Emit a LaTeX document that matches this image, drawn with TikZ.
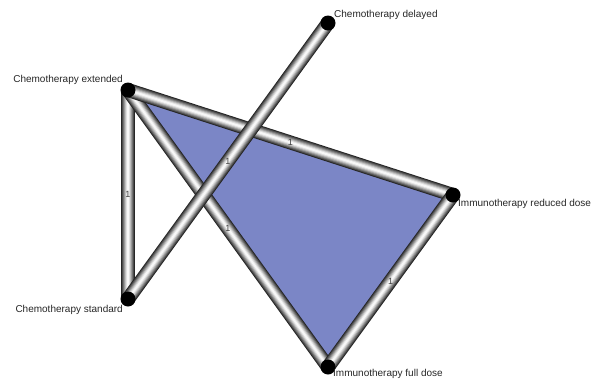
\documentclass[tikz,border=0pt]{standalone}
\usepackage{fontspec}
\setmainfont{Liberation Sans}
\begin{document}
\begin{tikzpicture}[x=1pt,y=-1pt,
  dot/.style={circle,fill=black,inner sep=0pt,minimum size=15pt},
  txt/.style={font=\fontsize{10}{12}\selectfont,inner sep=0pt,text=black!85},
  lbl/.style={font=\fontsize{9}{10}\selectfont,inner sep=0pt,text=black!75},
  tri/.style={fill={rgb,255:red,123;green,134;blue,198}}]
\useasboundingbox (0,0) rectangle (595,378);
\coordinate (cd) at (328,23);
\coordinate (ce) at (128,90);
\coordinate (ir) at (453,195);
\coordinate (cs) at (128,299);
\coordinate (if) at (328,367);
\fill[tri] (ce) -- (ir) -- (if) -- cycle;
\foreach \s/\t in {ce/cs,ce/if,ce/ir,ir/if,cd/cs}{
  \foreach \w/\k in {14/85,12/70,10/55,8/40,6/25,4/12,2/3}{
    \draw[line width=\w pt,draw=black!\k] (\s) -- (\t);
  }
}
\foreach \s/\t in {ce/cs,ce/if,ce/ir,ir/if,cd/cs}{
  \path (\s) -- (\t) node[midway,lbl]{1};
}
\node[dot] (ncd) at (cd) {};
\node[dot] (nce) at (ce) {};
\node[dot] (nir) at (ir) {};
\node[dot] (ncs) at (cs) {};
\node[dot] (nif) at (if) {};
\node[txt,anchor=west] (tcd) at (334,15) {Chemotherapy delayed};
\node[txt,anchor=east] (tce) at (123,80) {Chemotherapy extended};
\node[txt,anchor=west] (tir) at (458,204) {Immunotherapy reduced dose};
\node[txt,anchor=east] (tcs) at (123,310) {Chemotherapy standard};
\node[txt,anchor=west] (tif) at (333,374) {Immunotherapy full dose};
\end{tikzpicture}
\end{document}
